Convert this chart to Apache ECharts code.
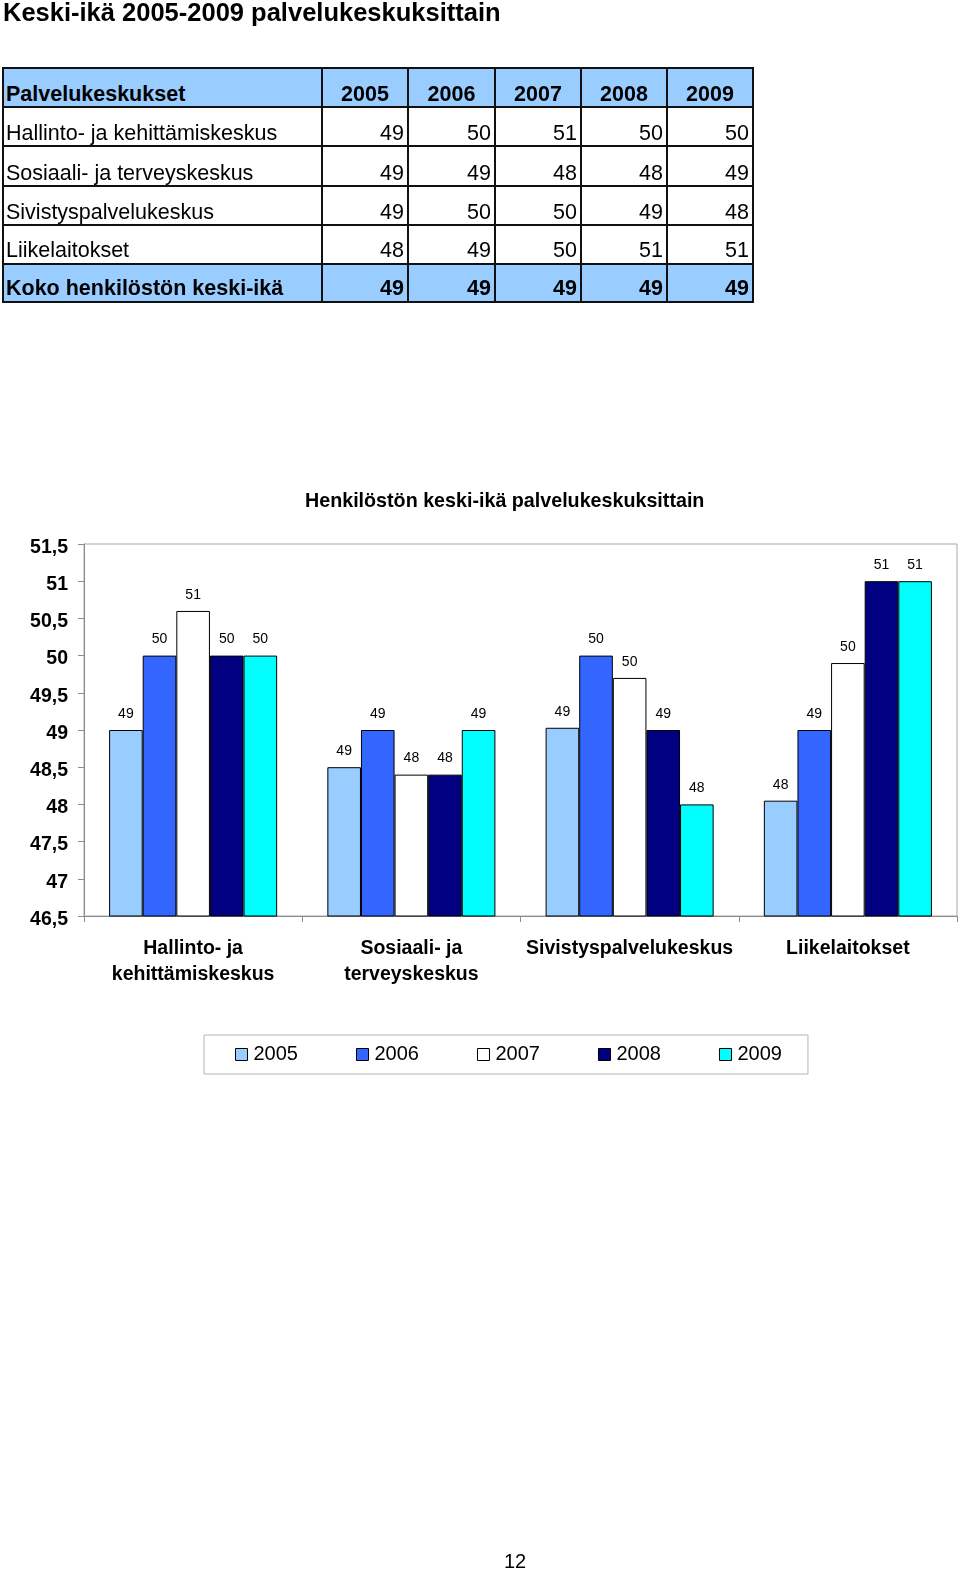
<!DOCTYPE html>
<html>
<head>
<meta charset="utf-8">
<script src="https://cdn.jsdelivr.net/npm/echarts@6/dist/echarts.min.js"></script>
<style>
  html, body { margin: 0; padding: 0; background: #fff; }
  body { width: 960px; height: 1571px; position: relative; overflow: hidden;
         font-family: "Liberation Sans", Arial, Helvetica, sans-serif; color: #000; }
  #chart { position: absolute; left: 0; top: 0; width: 960px; height: 1571px; }
  .abs { position: absolute; white-space: nowrap; }
  .cell { position: absolute; box-sizing: border-box; border: 2px solid #111; }
  .txt { position: absolute; white-space: nowrap; font-size: 21.5px; line-height: 21px; }
</style>
</head>
<body>
<div id="chart"></div>
<div class="abs" id="pageTitle" style="left:3px; top:0px; font-size:25.5px; line-height:25px; font-weight:bold;"></div>
<div id="table"></div>
<div class="abs" id="pageNum" style="left:504px; top:1551px; font-size:20px; line-height:20px;"></div>
<script>
// ---------- data ----------
const pageTitle = 'Keski-ikä 2005-2009 palvelukeskuksittain';
const chartTitle = 'Henkilöstön keski-ikä palvelukeskuksittain';
const pageNumber = '12';

const tableHeader = ['Palvelukeskukset', '2005', '2006', '2007', '2008', '2009'];
const tableRowNames = ['Hallinto- ja kehittämiskeskus', 'Sosiaali- ja terveyskeskus', 'Sivistyspalvelukeskus', 'Liikelaitokset', 'Koko henkilöstön keski-ikä'];
const tableHallinto = [49, 50, 51, 50, 50];
const tableSosiaali = [49, 49, 48, 48, 49];
const tableSivistys = [49, 50, 50, 49, 48];
const tableLiike = [48, 49, 50, 51, 51];
const tableKoko = [49, 49, 49, 49, 49];

const categories = ['Hallinto- ja\nkehittämiskeskus', 'Sosiaali- ja\nterveyskeskus', 'Sivistyspalvelukeskus', 'Liikelaitokset'];
const years = ['2005', '2006', '2007', '2008', '2009'];
const v2005 = [49.0, 48.5, 49.03, 48.05];
const v2006 = [50.0, 49.0, 50.0, 49.0];
const v2007 = [50.6, 48.4, 49.7, 49.9];
const v2008 = [50.0, 48.4, 49.0, 51.0];
const v2009 = [50.0, 49.0, 48.0, 51.0];
const yMin = 46.5, yMax = 51.5, yStep = 0.5;

// ---------- page text + table (HTML) ----------
document.getElementById('pageTitle').textContent = pageTitle;
document.getElementById('pageNum').textContent = pageNumber;

const tableValues = [tableHallinto, tableSosiaali, tableSivistys, tableLiike, tableKoko];
const xs = [2, 321, 407, 494, 580, 666, 752];
const ys = [67, 106, 145, 185, 224, 263, 301];
const baselines = [101.5, 141, 181, 219.5, 258, 296];
const tbl = document.getElementById('table');
function addCell(r, c, bg) {
  const d = document.createElement('div');
  d.className = 'cell';
  d.style.left = xs[c] + 'px';
  d.style.top = ys[r] + 'px';
  d.style.width = (xs[c + 1] - xs[c] + 2) + 'px';
  d.style.height = (ys[r + 1] - ys[r] + 2) + 'px';
  d.style.background = bg;
  tbl.appendChild(d);
}
function addText(r, c, text, align, bold) {
  const d = document.createElement('div');
  d.className = 'txt';
  const l = xs[c] + 2, w = xs[c + 1] - xs[c] - 2;
  d.style.top = (baselines[r] - 17.8) + 'px';
  if (align === 'left') { d.style.left = (l + 2) + 'px'; }
  else if (align === 'right') { d.style.left = l + 'px'; d.style.width = (w - 3) + 'px'; d.style.textAlign = 'right'; }
  else { d.style.left = l + 'px'; d.style.width = w + 'px'; d.style.textAlign = 'center'; }
  if (bold) d.style.fontWeight = 'bold';
  d.textContent = text;
  tbl.appendChild(d);
}
const blue = '#99CCFF';
for (let r = 0; r < 6; r++) {
  const hl = (r === 0 || r === 5);
  for (let c = 0; c < 6; c++) addCell(r, c, hl ? blue : '#fff');
}
for (let c = 0; c < 6; c++) addText(0, c, tableHeader[c], c === 0 ? 'left' : 'center', true);
for (let r = 0; r < 5; r++) {
  const bold = r === 4;
  addText(r + 1, 0, tableRowNames[r], 'left', bold);
  for (let c = 0; c < 5; c++) addText(r + 1, c + 1, String(tableValues[r][c]), 'right', bold);
}

// ---------- chart ----------
const FONT = '"Liberation Sans", Arial, Helvetica, sans-serif';
const colors = ['#99CCFF', '#3366FF', '#FFFFFF', '#000080', '#00FFFF'];
const seriesValues = [v2005, v2006, v2007, v2008, v2009];
const chart = echarts.init(document.getElementById('chart'), null, { renderer: 'canvas' });
chart.setOption({
  backgroundColor: 'transparent',
  animation: false,
  textStyle: { fontFamily: FONT },
  title: {
    text: chartTitle, left: 305, top: 492, padding: 0,
    textStyle: { fontFamily: FONT, fontSize: 19.7, fontWeight: 'bold', color: '#000' }
  },
  legend: {
    data: years, left: 204, top: 1035, orient: 'horizontal',
    icon: 'rect', itemWidth: 12, itemHeight: 12, itemGap: 58,
    padding: [9.5, 26, 9.5, 31],
    borderColor: '#b4b4b4', borderWidth: 1, backgroundColor: '#fff',
    itemStyle: { borderColor: '#000', borderWidth: 1 },
    textStyle: { fontFamily: FONT, fontSize: 20, color: '#000', padding: [0, 0, 0, 1] }
  },
  grid: {
    left: 84, top: 544, width: 873, height: 372,
    show: true, borderColor: '#a8a8a8', borderWidth: 1, backgroundColor: 'transparent'
  },
  xAxis: {
    type: 'category', data: categories,
    axisLine: { show: true, lineStyle: { color: '#8c8c8c', width: 1 } },
    axisTick: { show: true, length: 6, alignWithLabel: false, lineStyle: { color: '#8c8c8c' } },
    axisLabel: { interval: 0, margin: 20, fontFamily: FONT, fontSize: 19.5, fontWeight: 'bold', color: '#000', lineHeight: 26 },
    splitLine: { show: false }
  },
  yAxis: {
    type: 'value', min: yMin, max: yMax, interval: yStep,
    axisLine: { show: true, lineStyle: { color: '#8c8c8c', width: 1 } },
    axisTick: { show: true, length: 6, lineStyle: { color: '#8c8c8c' } },
    axisLabel: {
      margin: 16, color: '#000',
      formatter: v => '{a|' + String(v).replace('.', ',') + '}',
      rich: {
        a: { fontFamily: FONT, fontSize: 19.5, fontWeight: 'bold', color: '#000', padding: [7, 0, 0, 0] }
      }
    },
    splitLine: { show: false }
  },
  series: years.map((y, i) => ({
    name: y, type: 'bar', data: seriesValues[i],
    barGap: '0%', barCategoryGap: '23%',
    itemStyle: { color: colors[i], borderColor: '#000', borderWidth: 1 },
    label: {
      show: true, position: 'top', distance: 9,
      fontFamily: FONT, fontSize: 14, color: '#000',
      formatter: p => String(Math.round(p.value))
    }
  }))
});
</script>
</body>
</html>
